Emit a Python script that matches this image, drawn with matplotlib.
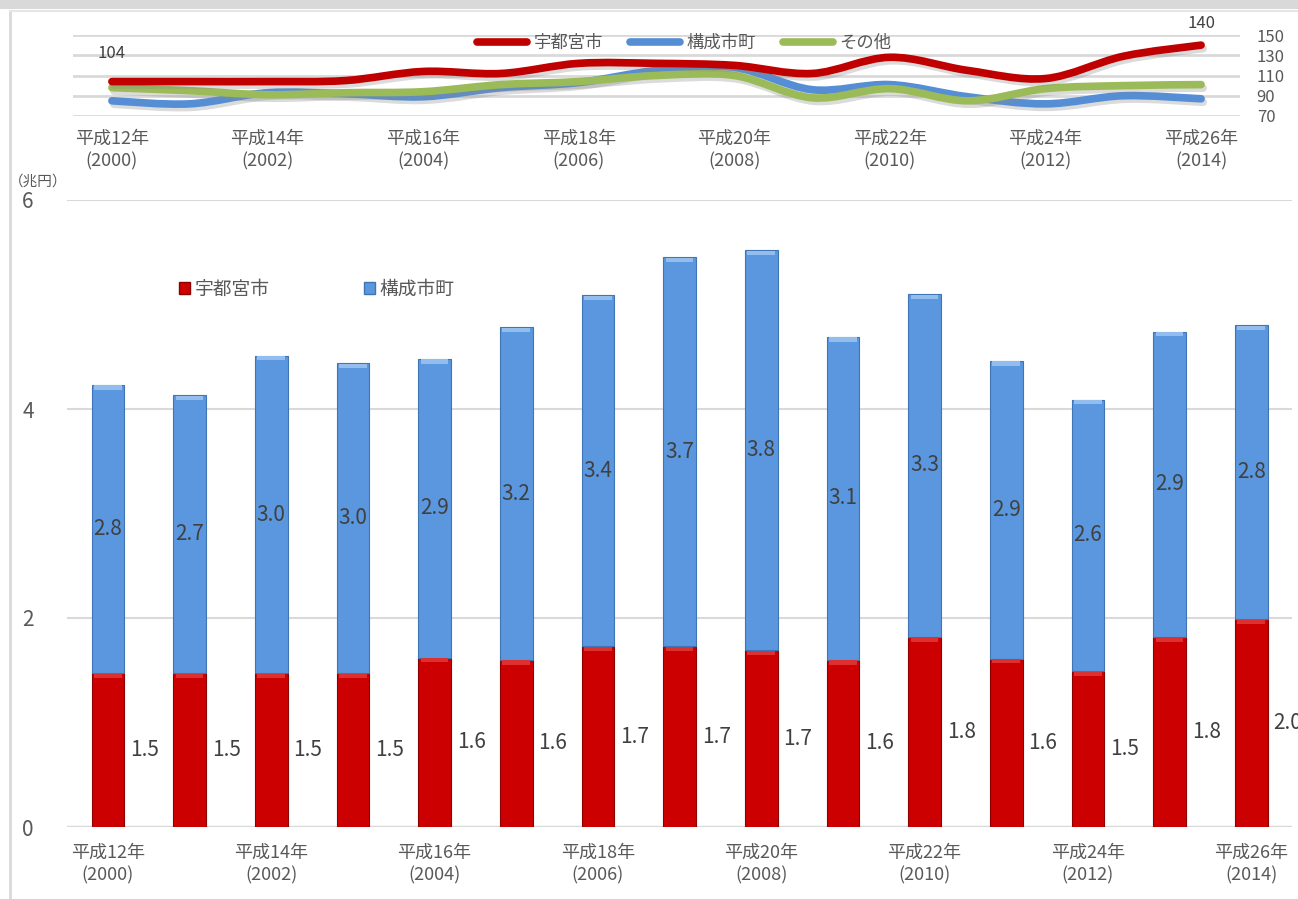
import matplotlib
matplotlib.use('Agg')
import matplotlib.pyplot as plt
import matplotlib.patheffects as pe
from matplotlib.path import Path
from matplotlib.patches import PathPatch, Rectangle
from matplotlib.lines import Line2D
import numpy as np

plt.rcParams['font.family'] = ['Noto Sans CJK JP', 'DejaVu Sans']

# data
years = list(range(2000, 2015))
year_labels = ['平成12年\n(2000)', '平成14年\n(2002)', '平成16年\n(2004)', '平成18年\n(2006)',
               '平成20年\n(2008)', '平成22年\n(2010)', '平成24年\n(2012)', '平成26年\n(2014)']
label_years = [2000, 2002, 2004, 2006, 2008, 2010, 2012, 2014]

# index lines (top chart)
idx_utsunomiya = [104, 104, 104, 105, 114, 112, 122, 122, 120, 112, 128, 115, 107, 129, 140]
idx_members = [85, 82, 93, 92, 89, 98, 103, 115, 118, 96, 101, 89, 82, 90, 87]
idx_other = [98, 95, 91, 93, 94, 101, 104, 110, 110, 88, 97, 85, 97, 100, 101]

# stacked bars (trillion yen)
utsunomiya = [1.47, 1.47, 1.47, 1.47, 1.62, 1.60, 1.73, 1.73, 1.69, 1.60, 1.82, 1.61, 1.49, 1.82, 1.99]
members = [2.76, 2.66, 3.04, 2.97, 2.86, 3.18, 3.36, 3.72, 3.83, 3.09, 3.28, 2.85, 2.60, 2.92, 2.81]

RED = '#C00000'
BLUE = '#558ED5'
GREEN = '#9BBB59'
GRID = '#D9D9D9'
TXT = '#595959'

fig = plt.figure(figsize=(12.98, 8.99), dpi=100)

# frame like the screenshot
fig.patches.append(Rectangle((0, 1 - 9 / 899), 1, 9 / 899, transform=fig.transFigure,
                             facecolor='#D9D9D9', edgecolor='none'))
fig.lines.append(Line2D([10 / 1298, 10 / 1298], [0, 1 - 11 / 899], transform=fig.transFigure,
                        color='#D9D9D9', lw=2))
fig.lines.append(Line2D([10 / 1298, 1], [1 - 11 / 899, 1 - 11 / 899], transform=fig.transFigure,
                        color='#E6E6E6', lw=1.5))


def smooth_path(x, y):
    # catmull-rom style bezier through the data points
    pts = np.column_stack([x, y]).astype(float)
    verts = [pts[0]]
    codes = [Path.MOVETO]
    n = len(pts)
    for i in range(n - 1):
        p0 = pts[i - 1] if i > 0 else pts[i]
        p1 = pts[i]
        p2 = pts[i + 1]
        p3 = pts[i + 2] if i + 2 < n else pts[i + 1]
        c1 = p1 + (p2 - p0) / 6.0
        c2 = p2 - (p3 - p1) / 6.0
        verts += [c1, c2, p2]
        codes += [Path.CURVE4] * 3
    return Path(verts, codes)


# ---- top chart ----
ax1 = fig.add_axes([73 / 1298, 1 - 116 / 899, 1167 / 1298, 81 / 899])
ax1.set_xlim(1999.5, 2014.5)
ax1.set_ylim(70, 150)
for v in range(70, 151, 20):
    ax1.axhline(v, color=GRID, lw=2, zorder=0)
for s in ax1.spines.values():
    s.set_visible(False)
ax1.yaxis.tick_right()
ax1.set_yticks(range(70, 151, 20))
ax1.tick_params(axis='y', length=0, labelsize=12, labelcolor=TXT, pad=12)
ax1.set_xticks(label_years)
ax1.set_xticklabels(year_labels, fontsize=13, color=TXT, linespacing=1.3)
ax1.tick_params(axis='x', length=0, pad=10)

shadow = [pe.SimpleLineShadow(offset=(1.5, -2.5), shadow_color='#888888', alpha=0.3), pe.Normal()]
for vals, col in [(idx_members, BLUE), (idx_other, GREEN), (idx_utsunomiya, RED)]:
    p = PathPatch(smooth_path(years, vals), facecolor='none', edgecolor=col, lw=5.5,
                  capstyle='round', joinstyle='round', clip_on=False, zorder=3)
    p.set_path_effects(shadow)
    ax1.add_patch(p)

ax1.text(years[0], idx_utsunomiya[0] + 19, '104', ha='center', va='bottom', fontsize=12, color='#404040')
ax1.text(years[-1], idx_utsunomiya[-1] + 13, '140', ha='center', va='bottom', fontsize=12, color='#404040')

handles = [Line2D([], [], color=c, lw=5.5, solid_capstyle='round') for c in (RED, BLUE, GREEN)]
fig.legend(handles, ['宇都宮市', '構成市町', 'その他'], loc='center', ncol=3,
           bbox_to_anchor=(684 / 1298, 1 - 43 / 899), frameon=False, fontsize=12.5,
           handlelength=2.9, handletextpad=0.35, columnspacing=1.55, labelcolor=TXT)

# ---- bottom chart ----
ax2 = fig.add_axes([67 / 1298, 1 - 827 / 899, 1225 / 1298, 627 / 899])
ax2.set_xlim(1999.5, 2014.5)
ax2.set_ylim(0, 6)
for v in [2, 4, 6]:
    ax2.axhline(v, color=GRID, lw=1.5, zorder=0)
ax2.axhline(0, color=GRID, lw=2.5, zorder=0)
for s in ax2.spines.values():
    s.set_visible(False)

w = 0.4
ax2.bar(years, utsunomiya, width=w, color='#CC0000', edgecolor='#8E0000', lw=0.8, zorder=2)
ax2.bar(years, members, width=w, bottom=utsunomiya, color='#5B97DE', edgecolor='#3F74B5', lw=0.8, zorder=2)
# bevel highlights on the top of each segment
ax2.bar(years, [0.04] * len(years), width=w * 0.85, bottom=np.array(utsunomiya) - 0.045,
        color='#DD3030', edgecolor='none', zorder=3)
ax2.bar(years, [0.04] * len(years), width=w * 0.85,
        bottom=np.array(utsunomiya) + np.array(members) - 0.045,
        color='#93BDEE', edgecolor='none', zorder=3)

for x, r, b in zip(years, utsunomiya, members):
    ax2.text(x + 0.45, r / 2, f'{r:.1f}', ha='center', va='center', fontsize=15, color='#404040',
             clip_on=False)
    ax2.text(x, r + b / 2, f'{b:.1f}', ha='center', va='center', fontsize=15, color='#404040')

ax2.set_yticks([0, 2, 4, 6])
ax2.tick_params(axis='y', length=0, labelsize=15, labelcolor=TXT, pad=24)
ax2.set_xticks(label_years)
ax2.set_xticklabels(year_labels, fontsize=13, color=TXT, linespacing=1.3)
ax2.tick_params(axis='x', length=0, pad=12)
ax2.text(-0.0, 1.029, '（兆円）', transform=ax2.transAxes, ha='right', va='center',
         fontsize=10.5, color=TXT)

bar_handles = [Rectangle((0, 0), 1, 1, facecolor='#CC0000', edgecolor='#8E0000'),
               Rectangle((0, 0), 1, 1, facecolor='#5B97DE', edgecolor='#3F74B5')]
ax2.legend(bar_handles, ['宇都宮市', '構成市町'], loc='center left', ncol=2,
           bbox_to_anchor=(112 / 1225, 1 - (289 - 200) / 627), frameon=False, fontsize=13.5,
           handlelength=0.6, handleheight=0.6, handletextpad=0.25, columnspacing=5.0, labelcolor=TXT,
           borderpad=0.0, borderaxespad=0.0)

fig.savefig('out.png', dpi=100)
